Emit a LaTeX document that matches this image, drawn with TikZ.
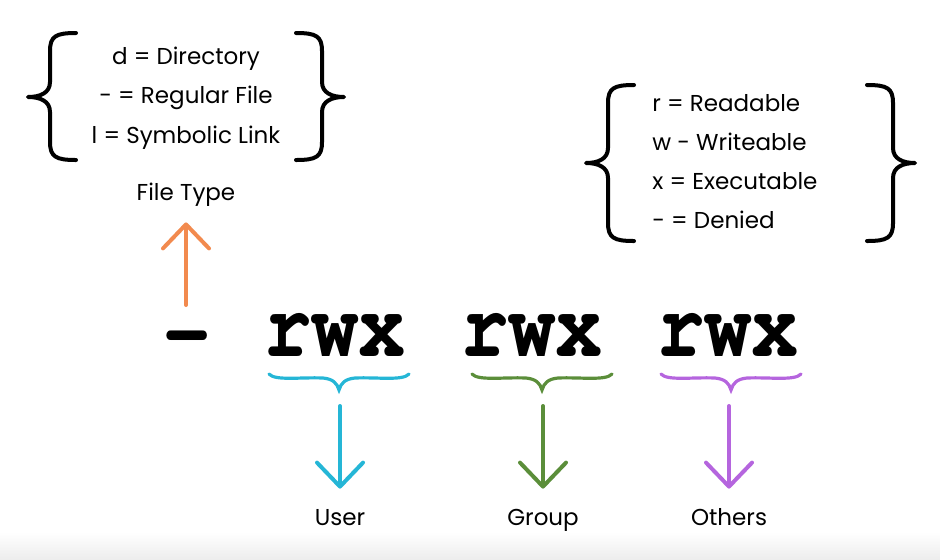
\documentclass[tikz,border=0pt]{standalone}
\usepackage{fontspec}
\setmainfont{Poppins}
\usepackage{xcolor}
\usetikzlibrary{positioning,arrows.meta}

\definecolor{ft-orange}{HTML}{F28A4E}
\definecolor{usr-cyan}{HTML}{25B6D6}
\definecolor{grp-green}{HTML}{5B8E3A}
\definecolor{oth-purple}{HTML}{B565DE}

% courier bold for the mode string
\newcommand\modefont{\fontencoding{T1}\fontfamily{pcr}\fontseries{b}\selectfont}

% hand drawn curly braces: vertical x, top y, middle y, bottom y
\newcommand\openbrc[4]{%
  \draw [brc] (#1+26,#2) .. controls (#1+6,#2) and (#1,#2+3) .. (#1,#2+18)
    -- (#1,#3-15) .. controls (#1,#3-4) and (#1-10,#3) .. (#1-22,#3)
    .. controls (#1-10,#3) and (#1,#3+4) .. (#1,#3+15)
    -- (#1,#4-18) .. controls (#1,#4-3) and (#1+6,#4) .. (#1+26,#4);}
\newcommand\closebrc[4]{%
  \draw [brc] (#1-26,#2) .. controls (#1-6,#2) and (#1,#2+3) .. (#1,#2+18)
    -- (#1,#3-15) .. controls (#1,#3-4) and (#1+10,#3) .. (#1+22,#3)
    .. controls (#1+10,#3) and (#1,#3+4) .. (#1,#3+15)
    -- (#1,#4-18) .. controls (#1,#4-3) and (#1-6,#4) .. (#1-26,#4);}
% brace under a rwx group: tip x, colour
\newcommand\underbrc[2]{%
  \draw [ubrc, #2] (#1-70,374) .. controls (#1-64,381) and (#1-38,377) .. (#1-16,378)
    .. controls (#1-6,379) and (#1-2,383) .. (#1,390)
    .. controls (#1+2,383) and (#1+6,379) .. (#1+16,378)
    .. controls (#1+38,377) and (#1+64,381) .. (#1+70,374);}

\begin{document}
\begin{tikzpicture}
[
x=0.5pt, y=-0.5pt,
txt/.style={font=\fontsize{11.5}{14}\selectfont, inner sep=0pt, text height=9pt, text depth=3pt},
perm/.style={font=\modefont\fontsize{48}{48}\selectfont, inner sep=0pt, anchor=base, xscale=0.82},
brc/.style={line width=2pt, line cap=round, line join=round},
ubrc/.style={line width=1.6pt, line cap=round},
arw/.style={line width=2pt, line cap=round, -{Straight Barb[length=12pt, width=23pt, round]}}
]

\useasboundingbox (0,0) rectangle (940,559);
\shade [top color=white, bottom color=black!7] (0,532) rectangle (940,559);

% file types
\node (dir)   [txt]                     at (186,58)  {d = Directory};
\node (reg)   [txt, below = 7.5pt of dir]            {- = Regular File};
\node (sym)   [txt, below = 7.5pt of reg]            {l = Symbolic Link};
\node (ftype) [txt]                     at (186,194) {File Type};
\openbrc{50}{33}{97}{160}
\closebrc{322}{33}{97}{160}

% permissions
\node (rd) [txt, anchor=west]                                at (652,105) {r = Readable};
\node (wr) [txt, below right = 7.2pt and 0pt of rd.south west] {w - Writeable};
\node (ex) [txt, below right = 7.2pt and 0pt of wr.south west] {x = Executable};
\node (dn) [txt, below right = 7.2pt and 0pt of ex.south west] {- = Denied};
\openbrc{608}{85}{163}{241}
\closebrc{893}{85}{163}{241}

% mode string
\node (dash) [perm] at (187,362) {-};
\node (usr)  [perm] at (335,356) {rwx};
\node (grp)  [perm] at (532,356) {rwx};
\node (oth)  [perm] at (728,356) {rwx};

\underbrc{339}{usr-cyan}
\underbrc{542}{grp-green}
\underbrc{731}{oth-purple}

\coordinate (ft-from)  at (186,305);
\coordinate (usr-from) at (340,406);
\coordinate (grp-from) at (543,406);
\coordinate (oth-from) at (729,406);

\node (usr-lb) [txt] at (340,519) {User};
\node (grp-lb) [txt] at (543,519) {Group};
\node (oth-lb) [txt] at (729,519) {Others};

\draw [arw, ft-orange, shorten >=8pt]  (ft-from)  -- (ftype.south);
\draw [arw, usr-cyan, shorten >=9pt]   (usr-from) -- (usr-lb.north);
\draw [arw, grp-green, shorten >=9pt]  (grp-from) -- (grp-lb.north);
\draw [arw, oth-purple, shorten >=9pt] (oth-from) -- (oth-lb.north);

\end{tikzpicture}
\end{document}
